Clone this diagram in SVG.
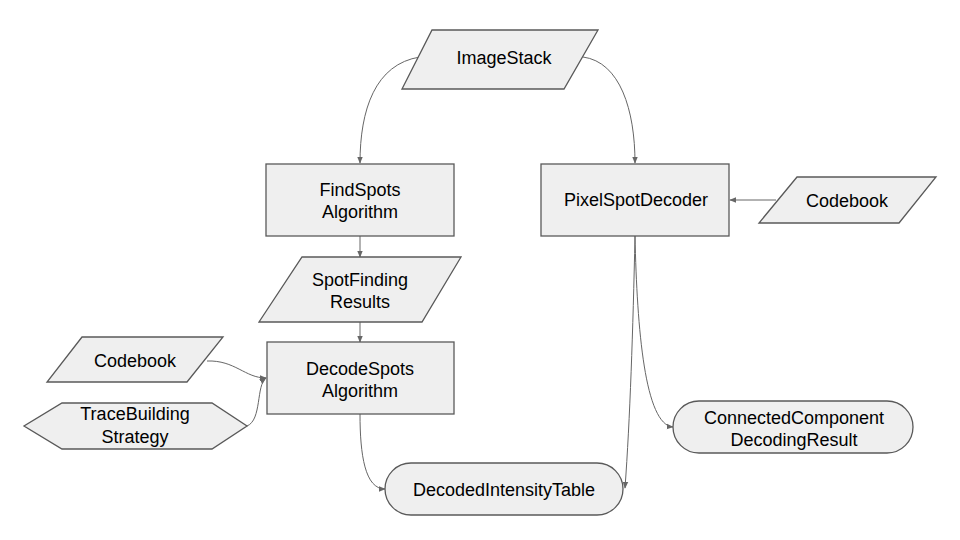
<svg xmlns="http://www.w3.org/2000/svg" width="960" height="540" viewBox="0 0 960 540">
<style>
.n{fill:#efefef;stroke:#595959;stroke-width:1.3}
.t{font-family:"Liberation Sans",Arial,sans-serif;font-size:18px;fill:#000;text-anchor:middle}
.c{fill:none;stroke:#666;stroke-width:1}
</style>
<defs>
<marker id="a" viewBox="0 0 10 10" refX="9" refY="5" markerWidth="7" markerHeight="7" markerUnits="userSpaceOnUse" orient="auto">
<path d="M0,1 L10,5 L0,9 z" fill="#666"/>
</marker>
</defs>
<rect width="960" height="540" fill="#fff"/>
<g id="connectors">
<path class="c" marker-end="url(#a)" d="M420,57 C375,64 360,110 360,163"/>
<path class="c" marker-end="url(#a)" d="M583,57 C620,62 635,110 635,163"/>
<path class="c" marker-end="url(#a)" d="M776,200 L730,200"/>
<path class="c" marker-end="url(#a)" d="M360,236 L360,257"/>
<path class="c" marker-end="url(#a)" d="M360,322 L360,342"/>
<path class="c" marker-end="url(#a)" d="M207,361 C235,360 245,378 266,378"/>
<path class="c" marker-end="url(#a)" d="M247,426 C262,420 256,385 266,378"/>
<path class="c" marker-end="url(#a)" d="M360,414 C360,455 365,489 385,489"/>
<path class="c" marker-end="url(#a)" d="M635,236 C633,330 630,420 625,488"/>
<path class="c" marker-end="url(#a)" d="M635,236 C637,330 645,425 673,427"/>
</g>
<g id="imagestack">
<polygon class="n" points="432,30 598,30 564,89 402,89"/>
<text class="t" x="504" y="64">ImageStack</text>
</g>
<g id="findspots">
<rect class="n" x="266" y="164" width="188" height="72"/>
<text class="t" x="360" y="196">FindSpots</text>
<text class="t" x="360" y="218">Algorithm</text>
</g>
<g id="pixelspotdecoder">
<rect class="n" x="541" y="164" width="188" height="72"/>
<text class="t" x="636" y="206">PixelSpotDecoder</text>
</g>
<g id="codebook-right">
<polygon class="n" points="797,177 936,177 899,223 759,223"/>
<text class="t" x="847" y="207">Codebook</text>
</g>
<g id="spotfinding">
<polygon class="n" points="302,257 461,257 422,322 259,322"/>
<text class="t" x="360" y="286">SpotFinding</text>
<text class="t" x="360" y="308">Results</text>
</g>
<g id="decodespots">
<rect class="n" x="267" y="342" width="187" height="72"/>
<text class="t" x="360" y="375">DecodeSpots</text>
<text class="t" x="360" y="397">Algorithm</text>
</g>
<g id="codebook-left">
<polygon class="n" points="82,337 223,337 187,382 47,382"/>
<text class="t" x="135" y="367">Codebook</text>
</g>
<g id="tracebuilding">
<polygon class="n" points="62,403 212,403 247,426 212,449 62,449 24,426"/>
<text class="t" x="135" y="420">TraceBuilding</text>
<text class="t" x="135" y="443">Strategy</text>
</g>
<g id="decodedintensitytable">
<rect class="n" x="385" y="463" width="238" height="52" rx="26" ry="26"/>
<text class="t" x="504" y="496">DecodedIntensityTable</text>
</g>
<g id="connectedcomponent">
<rect class="n" x="673" y="401" width="240" height="52" rx="26" ry="26"/>
<text class="t" x="794" y="424">ConnectedComponent</text>
<text class="t" x="794" y="446">DecodingResult</text>
</g>
</svg>
